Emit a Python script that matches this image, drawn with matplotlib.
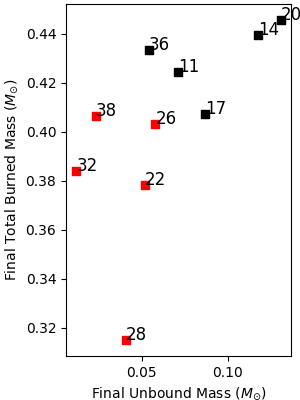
import matplotlib
matplotlib.use("Agg")
import matplotlib.pyplot as plt

# Final unbound mass vs final total burned mass
labels = ["36", "11", "14", "20", "17", "38", "26", "32", "22", "28"]
unbound = [0.0542, 0.0711, 0.1176, 0.1308, 0.0868, 0.0234, 0.0578, 0.0118, 0.0517, 0.0407]
burned = [0.4335, 0.4245, 0.4396, 0.4457, 0.4073, 0.4064, 0.4031, 0.3840, 0.3782, 0.3150]
colors = ["black", "black", "black", "black", "black", "red", "red", "red", "red", "red"]

fig, ax = plt.subplots(figsize=(3, 4), dpi=100)
ax.scatter(unbound, burned, c=colors, marker='s')

for lab, x, y in zip(labels, unbound, burned):
    ax.text(x, y, lab, fontsize=12)

ax.set_xlabel(r'Final Unbound Mass ($M_{\odot}$)')
ax.set_ylabel(r'Final Total Burned Mass ($M_{\odot}$)')
fig.subplots_adjust(left=0.22, right=0.97, top=0.99, bottom=0.11)
fig.savefig("out.png")
